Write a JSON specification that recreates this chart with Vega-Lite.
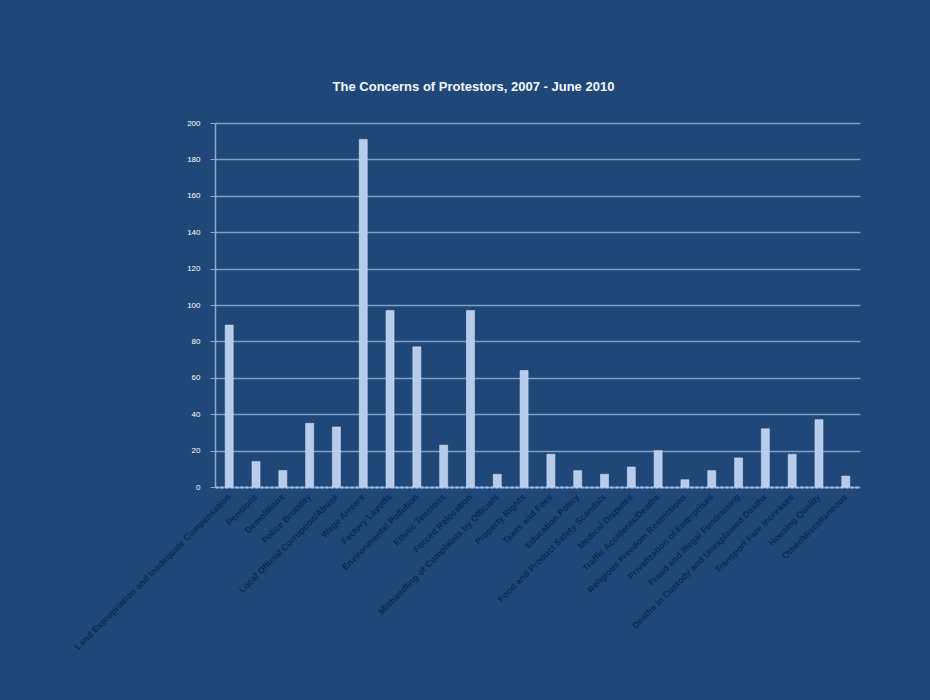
{
  "$schema": "https://vega.github.io/schema/vega-lite/v6.json",
  "autosize": "none",
  "width": 645,
  "height": 364,
  "padding": {"left": 215, "top": 123, "right": 70, "bottom": 213},
  "background": "#1f4879",
  "title": {
    "text": "The Concerns of Protestors, 2007 - June 2010",
    "font": "Liberation Sans",
    "fontSize": 13,
    "fontWeight": "bold",
    "color": "#f4f7fc",
    "anchor": "middle",
    "dx": -64,
    "offset": 25
  },
  "data": {
    "values": [
      {"concern": "Land Expropriation and Inadequate Compensation", "count": 89},
      {"concern": "Pensions", "count": 14},
      {"concern": "Demolitions", "count": 9},
      {"concern": "Police Brutality", "count": 35},
      {"concern": "Local Official Corruption/Abuse", "count": 33},
      {"concern": "Wage Arrears", "count": 191},
      {"concern": "Factory Layoffs", "count": 97},
      {"concern": "Environmental Pollution", "count": 77},
      {"concern": "Ethnic Tensions", "count": 23},
      {"concern": "Forced Relocation", "count": 97},
      {"concern": "Mishandling of Complaints by Officials", "count": 7},
      {"concern": "Property Rights", "count": 64},
      {"concern": "Taxes and Fees", "count": 18},
      {"concern": "Education Policy", "count": 9},
      {"concern": "Food and Product Safety Scandals", "count": 7},
      {"concern": "Medical Disputes", "count": 11},
      {"concern": "Traffic Accidents/Deaths", "count": 20},
      {"concern": "Religious Freedom Restrictions", "count": 4},
      {"concern": "Privatization of Enterprises", "count": 9},
      {"concern": "Fraud and Illegal Fundraising", "count": 16},
      {"concern": "Deaths in Custody and Unexplained Deaths", "count": 32},
      {"concern": "Transport Fare Increases", "count": 18},
      {"concern": "Housing Quality", "count": 37},
      {"concern": "Other/Miscellaneous", "count": 6}
    ]
  },
  "mark": {"type": "bar", "color": "#b7cbeb", "stroke": "#dfe8f7", "strokeWidth": 0.5},
  "encoding": {
    "x": {
      "field": "concern",
      "type": "nominal",
      "sort": null,
      "scale": {"paddingInner": 0.7, "paddingOuter": 0.38},
      "axis": {
        "title": null,
        "labelAngle": -45,
        "labelAlign": "right",
        "labelBaseline": "middle",
        "labelFont": "Liberation Sans",
        "labelFontSize": 9,
        "labelFontWeight": "bold",
        "labelColor": "#0d2850",
        "labelPadding": 8,
        "labelLimit": 400,
        "labelOverlap": false,
        "ticks": false,
        "domainColor": "#a9bfe2",
        "domainWidth": 2,
        "domainDash": [3, 2]
      }
    },
    "y": {
      "field": "count",
      "type": "quantitative",
      "scale": {"domain": [0, 200]},
      "axis": {
        "title": null,
        "values": [0, 20, 40, 60, 80, 100, 120, 140, 160, 180, 200],
        "labelFont": "Liberation Sans",
        "labelFontSize": 8,
        "labelColor": "#ffffff",
        "labelPadding": 10,
        "tickSize": 5,
        "tickColor": "#8fa9d3",
        "domainColor": "#8fa9d3",
        "domainWidth": 1.5,
        "gridColor": "#809dcc",
        "gridWidth": 1.5
      }
    }
  },
  "config": {
    "view": {"stroke": null}
  }
}
